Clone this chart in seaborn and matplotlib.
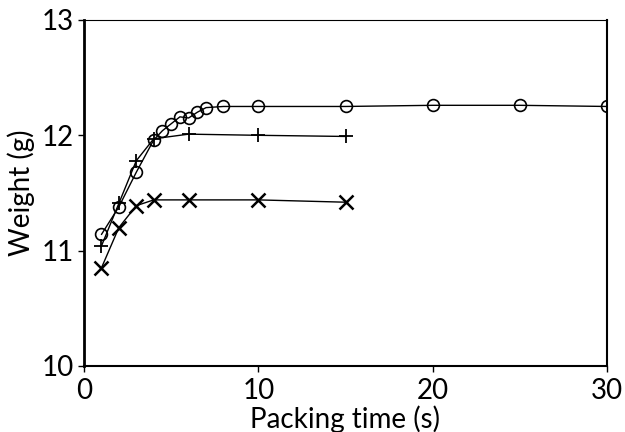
import matplotlib
matplotlib.use("Agg")
import matplotlib.pyplot as plt
import seaborn as sns

sns.set_theme(style="ticks")
plt.rcParams['font.family'] = ['Lato', 'DejaVu Sans']
plt.rcParams['text.color'] = 'black'
plt.rcParams['axes.labelcolor'] = 'black'

time_circle = [1, 2, 3, 4, 4.5, 5, 5.5, 6, 6.5, 7, 8, 10, 15, 20, 25, 30]
weight_circle = [11.14, 11.38, 11.68, 11.96, 12.04, 12.10, 12.16, 12.15, 12.20, 12.24, 12.25, 12.25, 12.25, 12.26, 12.26, 12.25]

time_plus = [1, 2, 3, 4, 6, 10, 15]
weight_plus = [11.04, 11.41, 11.78, 11.97, 12.01, 12.00, 11.99]

time_x = [1, 2, 3, 4, 6, 10, 15]
weight_x = [10.85, 11.20, 11.39, 11.44, 11.44, 11.44, 11.42]

xticks = [0, 10, 20, 30]
yticks = [10, 11, 12, 13]

fig = plt.figure(figsize=(6.25, 4.32), dpi=100)
ax = fig.add_axes([0.1344, 0.1528, 0.8368, 0.801])

sns.lineplot(x=time_circle, y=weight_circle, ax=ax, color='black', lw=1.0,
             marker='o', markersize=8.5, markerfacecolor='none',
             markeredgecolor='black', markeredgewidth=1.2)
sns.lineplot(x=time_plus, y=weight_plus, ax=ax, color='black', lw=1.0,
             marker='+', markersize=10.5, markeredgecolor='black', markeredgewidth=1.3)
sns.lineplot(x=time_x, y=weight_x, ax=ax, color='black', lw=1.0,
             marker='x', markersize=9.5, markeredgecolor='black', markeredgewidth=1.8)

ax.set_xlim(0, 30)
ax.set_ylim(10, 13)
ax.set_xticks(xticks)
ax.set_yticks(yticks)
ax.tick_params(direction='out', length=4, width=1, labelsize=20,
               colors='black')
ax.tick_params(axis='x', pad=5)
ax.tick_params(axis='y', pad=3)
ax.set_xlabel('Packing time (s)', fontsize=20, labelpad=1, color='black')
ax.set_ylabel('Weight (g)', fontsize=20, labelpad=5, color='black')
ax.spines['left'].set_linewidth(2.0)
for s in ['bottom', 'right']:
    ax.spines[s].set_linewidth(1.5)
for s in ['left', 'bottom', 'right', 'top']:
    ax.spines[s].set_color('black')
ax.spines['top'].set_linewidth(0.8)

fig.savefig('out.png', dpi=100, facecolor='white')
